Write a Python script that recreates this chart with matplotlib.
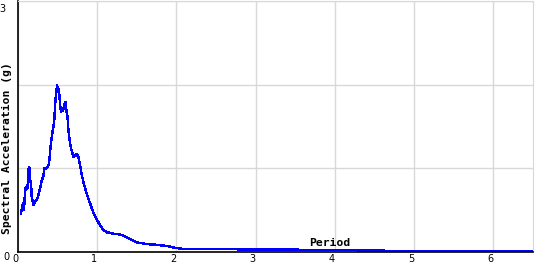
import matplotlib
matplotlib.use('Agg')
import matplotlib.pyplot as plt
import matplotlib.transforms as mtransforms

# spectrum
period = [0.038, 0.055, 0.067, 0.075, 0.089, 0.10, 0.12, 0.13, 0.143, 0.152,
          0.165, 0.173, 0.194, 0.215, 0.237, 0.257, 0.278, 0.30, 0.32, 0.333,
          0.36, 0.385, 0.397, 0.41, 0.434, 0.456, 0.468, 0.48, 0.494, 0.502,
          0.515, 0.523, 0.53, 0.544, 0.56, 0.57, 0.586, 0.60, 0.608, 0.625,
          0.637, 0.65, 0.667, 0.684, 0.70, 0.72, 0.742, 0.764, 0.776, 0.79,
          0.81, 0.835, 0.86, 0.886, 0.91, 0.95, 0.99, 1.03, 1.075, 1.12,
          1.16, 1.22, 1.285, 1.33, 1.37, 1.41, 1.45, 1.495, 1.56, 1.64,
          1.75, 1.83, 1.92, 1.98, 2.08, 2.3, 2.8, 3.5, 4.3, 4.9, 5.5, 6.5]
sa = [0.46, 0.56, 0.58, 0.50, 0.72, 0.78, 0.76, 0.98, 1.01, 0.86,
      0.82, 0.66, 0.56, 0.60, 0.62, 0.68, 0.76, 0.86, 0.90, 1.00,
      1.00, 1.035, 1.11, 1.25, 1.43, 1.55, 1.75, 1.89, 2.00, 1.91,
      1.95, 1.87, 1.77, 1.67, 1.71, 1.69, 1.77, 1.79, 1.71, 1.61,
      1.45, 1.35, 1.25, 1.19, 1.14, 1.15, 1.17, 1.13, 1.075, 1.00,
      0.90, 0.80, 0.72, 0.64, 0.58, 0.475, 0.395, 0.33, 0.265, 0.235,
      0.23, 0.215, 0.21, 0.195, 0.175, 0.157, 0.137, 0.117, 0.105, 0.093,
      0.086, 0.077, 0.065, 0.05, 0.038, 0.035, 0.032, 0.028, 0.02, 0.012, 0.006, 0.004]

xticks = [0, 1, 2, 3, 4, 5, 6]
yticks = [0, 1, 2, 3]
ytick_labels = ['0', '', '', '3']

fig = plt.figure(figsize=(5.4, 2.7), dpi=100)
ax = fig.add_axes([18/540, 18/270, 515/540, 251/270])

ax.plot(period, sa, color='#0000ff', linewidth=1.0, antialiased=False)

ax.set_xlim(0, 6.5)
ax.set_ylim(0, 3)
ax.set_xticks(xticks)
ax.set_yticks(yticks, labels=ytick_labels)
ax.grid(True, color='#d8d8d8', linewidth=1)
ax.set_axisbelow(True)

ax.spines['top'].set_color('#d8d8d8')
ax.spines['right'].set_color('#d8d8d8')
ax.spines['left'].set_linewidth(1.2)
ax.spines['bottom'].set_linewidth(1.2)
ax.tick_params(length=0, labelsize=7, colors='black')
ax.tick_params(axis='x', pad=1.5)
ax.tick_params(axis='y', pad=5.8)

# small shifts so the labels sit like in the reference (pixels at dpi 100)
px = lambda dx, dy: mtransforms.ScaledTranslation(dx/100, dy/100, fig.dpi_scale_trans)
for lab in ax.get_xticklabels():
    lab.set_transform(lab.get_transform() + px(-3, 0))
ylabs = ax.get_yticklabels()
for lab in ylabs:
    lab.set_verticalalignment('top')
ylabs[3].set_transform(ylabs[3].get_transform() + px(-4.5, -3))

ax.set_xlabel('Period', family='DejaVu Sans Mono', weight='bold', fontsize=8.2, va='baseline')
ax.xaxis.set_label_coords((330 - 18) / 515, (252 - 245.7) / 251)

fig.text(7/540, 1 - 148/270, 'Spectral Acceleration (g)', rotation=90,
         family='DejaVu Sans Mono', weight='bold', fontsize=8.2,
         ha='center', va='center')

fig.savefig('out.png', dpi=100)
